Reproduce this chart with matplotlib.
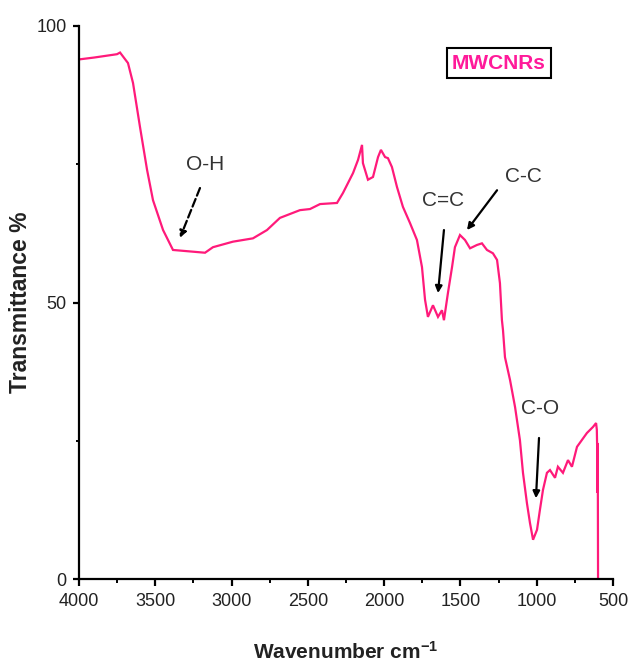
import matplotlib
matplotlib.use("Agg")
import matplotlib.pyplot as plt
from matplotlib.ticker import MultipleLocator

plt.rcParams['font.family'] = ['Liberation Sans', 'DejaVu Sans']
plt.rcParams['mathtext.default'] = 'regular'

wavenumber = [3987, 3900, 3751, 3731, 3679, 3646, 3600, 3554, 3515, 3449, 3384, 3174, 3122,
              2991, 2860, 2768, 2683, 2552, 2486, 2420, 2309, 2270, 2204, 2171, 2145,
              2139, 2106, 2073, 2040, 2021, 1994, 1975, 1949, 1916, 1877, 1831, 1785,
              1752, 1732, 1713, 1680, 1647, 1621, 1608, 1582, 1555, 1536, 1503, 1470,
              1437, 1392, 1359, 1326, 1287, 1260, 1241, 1228, 1221, 1208, 1175, 1142,
              1110, 1090, 1064, 1044, 1024, 998, 979, 959, 933, 913, 880, 861, 828,
              795, 769, 736, 671, 631, 611, 606, 604, 603, 600, 598]
transmittance = [94.0, 94.3, 94.9, 95.2, 93.3, 89.7, 81.7, 74.0, 68.5, 63.1, 59.5, 59.0, 60.0,
                 61.0, 61.6, 63.1, 65.3, 66.7, 66.9, 67.8, 68.0, 69.8, 73.4, 75.8, 78.5,
                 75.2, 72.2, 72.7, 76.3, 77.6, 76.3, 76.1, 74.5, 70.9, 67.3, 64.4, 61.3,
                 56.4, 50.5, 47.4, 49.5, 47.4, 48.6, 46.8, 51.7, 56.4, 60.0, 62.2, 61.3,
                 59.8, 60.4, 60.7, 59.5, 58.9, 57.7, 53.5, 46.8, 45.0, 40.1, 36.0, 31.1,
                 25.1, 19.2, 13.7, 10.1, 7.1, 8.9, 12.5, 16.1, 19.2, 19.7, 18.3, 20.3, 19.2,
                 21.5, 20.3, 23.9, 26.4, 27.5, 28.2, 27.0, 24.0, 15.6, 24.6, 0.0]

series_label = "MWCNRs"
peak_labels = ["O-H", "C=C", "C-C", "C-O"]
label_pos = [(3174, 75.0), (1614, 68.5), (1090, 72.7), (979, 30.9)]
arrow_tail = [(3207, 70.7), (1608, 63.1), (1260, 70.3), (985, 25.5)]
arrow_head = [(3338, 61.7), (1647, 51.7), (1457, 63.1), (1005, 14.6)]
arrow_styles = ["--", "-", "-", "-"]

fig = plt.figure(figsize=(6.30, 6.64), dpi=100)
ax = fig.add_axes([79/630, (664-579)/664, (613-79)/630, (579-26)/664])

ax.plot(wavenumber, transmittance, color='#ff1a7a', lw=1.6, solid_joinstyle='miter')

ax.set_xlim(4000, 500)
ax.set_ylim(0, 100)
ax.xaxis.set_major_locator(MultipleLocator(500))
ax.xaxis.set_minor_locator(MultipleLocator(250))
ax.yaxis.set_major_locator(MultipleLocator(50))
ax.yaxis.set_minor_locator(MultipleLocator(25))

for s in ['top', 'right']:
    ax.spines[s].set_visible(False)
for s in ['left', 'bottom']:
    ax.spines[s].set_linewidth(1.6)

ax.tick_params(axis='x', which='major', direction='out', length=5, width=1.6, pad=5, labelsize=13)
ax.tick_params(axis='x', which='minor', direction='out', length=3, width=1.4)
ax.tick_params(axis='y', which='major', direction='out', length=4, width=1.6, pad=5, labelsize=13)
ax.tick_params(axis='y', which='minor', direction='out', length=2, width=1.4)
for lab in ax.get_xticklabels() + ax.get_yticklabels():
    lab.set_color('#222222')

ax.set_xlabel("Wavenumber cm$^{-1}$", fontsize=15, fontweight='bold', color='#222222')
ax.xaxis.set_label_coords(0.5, -0.112)
ax.set_ylabel("Transmittance %", fontsize=16.5, fontweight='bold', color='#222222')
ax.yaxis.set_label_coords(-0.088, 0.50)

for lab, pos, tail, head, ls in zip(peak_labels, label_pos, arrow_tail, arrow_head, arrow_styles):
    ax.text(pos[0], pos[1], lab, fontsize=15, color='#333333', ha='center', va='center')
    ax.annotate("", xy=head, xytext=tail,
                arrowprops=dict(arrowstyle='-|>', color='black', lw=1.6, ls=ls,
                                mutation_scale=10, shrinkA=0, shrinkB=0))

ax.text(0.7865, 0.933, series_label, transform=ax.transAxes, fontsize=15, fontweight='bold',
        color='#ff1a9a', ha='center', va='center',
        bbox=dict(boxstyle='square,pad=0.25', facecolor='white', edgecolor='black', lw=1.5))

fig.savefig("out.png", dpi=100)
